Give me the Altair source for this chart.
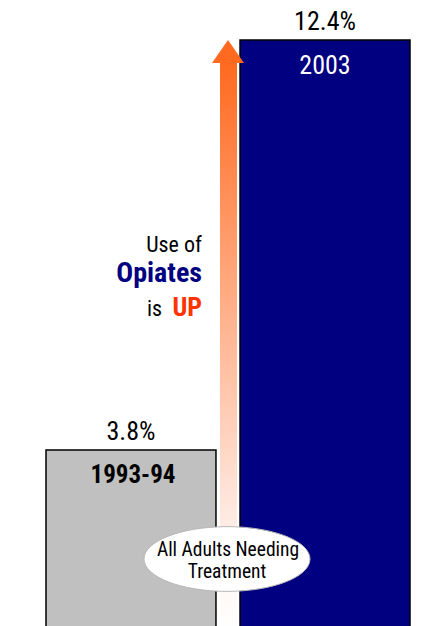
import altair as alt
import pandas as pd

years = ["1993-94", "2003"]
values = [3.8, 12.4]
value_labels = ["3.8%", "12.4%"]
bar_colors = ["#C0C0C0", "#000080"]
label_colors = ["#000000", "#FFFFFF"]

FONT = "Liberation Sans Narrow, Arial Narrow, Roboto Condensed, Liberation Sans, sans-serif"

df = pd.DataFrame({"year": years, "value": values, "vlabel": value_labels,
                   "barcolor": bar_colors, "lcolor": label_colors})

W, H = 440, 626
x = alt.X("year:N", sort=years, axis=None,
          scale=alt.Scale(range=[46, 410], paddingInner=0.124, paddingOuter=0))
yscale = alt.Scale(domain=[0.105, 13.24], nice=False, zero=False)
y = alt.Y("value:Q", axis=None, scale=yscale)

bars = alt.Chart(df).mark_bar(stroke="#000000", strokeWidth=1.5, clip=True).encode(
    x=x, y=y, y2=alt.datum(0),
    color=alt.Color("barcolor:N", scale=None),
)

vlabels = alt.Chart(df).mark_text(fontSize=26, font=FONT, baseline="alphabetic", dy=-10).encode(
    x=x, y=y, text="vlabel:N")

ylabel_old = alt.Chart(df[df.year == years[0]]).mark_text(
    fontSize=25, font=FONT, fontWeight="bold", baseline="alphabetic", dy=33, dx=2).encode(
    x=x, y=y, text="year:N", color=alt.Color("lcolor:N", scale=None))
ylabel_new = alt.Chart(df[df.year == years[1]]).mark_text(
    fontSize=26, font=FONT, baseline="alphabetic", dy=34).encode(
    x=x, y=y, text="year:N", color=alt.Color("lcolor:N", scale=None))

# arrow (shaft with gradient + head), tip at the 2003 value
arrow_df = pd.DataFrame({"top": [values[1]]})
head_px = 23
shaft = alt.Chart(arrow_df).mark_rect(
    color=alt.Gradient(gradient="linear",
                       stops=[alt.GradientStop(color="#FFFFFF", offset=0),
                              alt.GradientStop(color="#FFF2EE", offset=0.15),
                              alt.GradientStop(color="#FF6A20", offset=1)],
                       x1=0, x2=0, y1=1, y2=0),
    clip=True, yOffset=head_px,
).encode(
    x=alt.value(220), x2=alt.value(237),
    y=alt.Y("top:Q", scale=yscale, axis=None), y2=alt.datum(0),
)
head = alt.Chart(arrow_df).mark_point(
    shape="M-1,0.72L0,-0.72L1,0.72Z", size=1024, filled=True, opacity=1,
    color="#FF6A20", yOffset=head_px / 2,
).encode(x=alt.value(228), y=alt.Y("top:Q", scale=yscale, axis=None))

# annotation text
def ann(t, xp, yp, color, size, weight):
    return alt.Chart(pd.DataFrame({"t": [t]})).mark_text(
        align="right", baseline="alphabetic", font=FONT, fontSize=size,
        fontWeight=weight, color=color).encode(
        x=alt.value(xp), y=alt.value(yp), text="t:N")

ann_layers = [
    ann("Use of", 202, 252, "#000000", 22, "normal"),
    ann("Opiates", 202, 282, "#000080", 28, "bold"),
    ann("is", 162, 316, "#000000", 22, "normal"),
    ann("UP", 202, 316, "#FF3300", 26, "bold"),
]

ell_lines = ["All Adults Needing", "Treatment"]
ellipse = alt.Chart(pd.DataFrame({"t": [0]})).mark_point(
    shape="M-1,0A1,0.39,0,1,0,1,0A1,0.39,0,1,0,-1,0Z", size=166 * 166,
    filled=True, fill="#FFFFFF", stroke="#B8B8B8", strokeWidth=1, opacity=1,
).encode(x=alt.value(227), y=alt.value(559))
ell_text = [
    alt.Chart(pd.DataFrame({"t": [ell_lines[0]]})).mark_text(
        fontSize=19.5, font=FONT, color="#000000", baseline="alphabetic")
    .encode(x=alt.value(228), y=alt.value(556), text="t:N"),
    alt.Chart(pd.DataFrame({"t": [ell_lines[1]]})).mark_text(
        fontSize=19.5, font=FONT, color="#000000", baseline="alphabetic")
    .encode(x=alt.value(227), y=alt.value(578), text="t:N"),
]

chart = alt.layer(bars, shaft, head, vlabels, ylabel_old, ylabel_new, *ann_layers,
                  ellipse, *ell_text).properties(
    width=W, height=H, padding=0, autosize="none", background="#FFFFFF",
).configure_view(stroke=None)

chart.save("out.html", embed_options={"renderer": "svg", "actions": False})
